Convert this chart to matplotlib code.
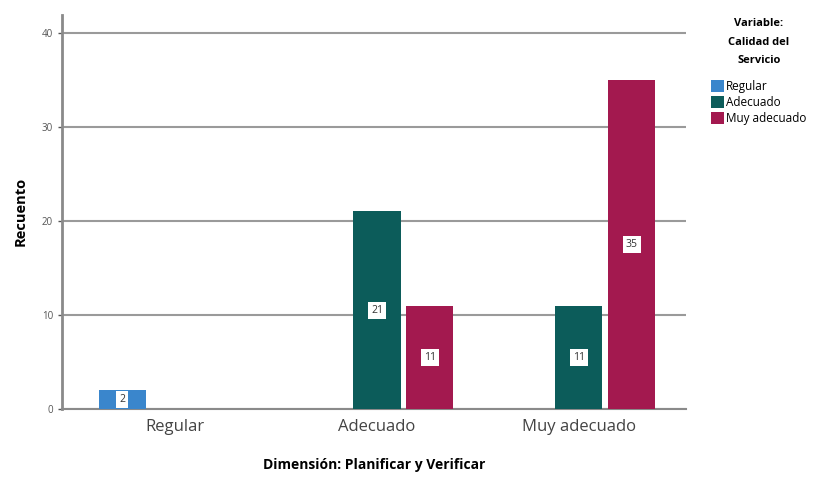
import matplotlib.pyplot as plt
import numpy as np

# recuento por categoría de la dimensión, una serie por nivel de la variable
categorias = ["Regular", "Adecuado", "Muy adecuado"]
niveles = ["Regular", "Adecuado", "Muy adecuado"]
recuento_regular = [2, 0, 0]
recuento_adecuado = [0, 21, 11]
recuento_muy_adecuado = [0, 11, 35]
colores = ["#3a86cc", "#0c5c5a", "#a3194f"]

plt.rcParams['font.family'] = ['Open Sans', 'DejaVu Sans']

fig = plt.figure(figsize=(8.24, 4.8), dpi=100)
ax = fig.add_axes([0.0752, 0.148, 0.7573, 0.821])

x = np.arange(len(categorias))
series = [recuento_regular, recuento_adecuado, recuento_muy_adecuado]
paso = 0.262
ancho = 0.233

for i, (vals, nivel, col) in enumerate(zip(series, niveles, colores)):
    pos = x + (i - 1) * paso
    barras = ax.bar(pos, vals, width=ancho, color=col, label=nivel, zorder=3)
    for b, v in zip(barras, vals):
        if v > 0:
            ax.text(b.get_x() + b.get_width() / 2, v / 2, str(v),
                    ha="center", va="center", fontsize=7.5, color="#333333",
                    zorder=4,
                    bbox=dict(boxstyle="square,pad=0.3", fc="white",
                              ec="none"))

ax.set_xlim(-0.56, 2.53)
ax.set_ylim(0, 41.9)
ax.set_yticks([0, 10, 20, 30, 40])
ax.set_xticks(x)
ax.set_xticklabels(categorias, fontsize=12, color="#444444")
ax.tick_params(axis="y", labelsize=7, colors="#555555", length=3, width=1)
ax.tick_params(axis="x", length=0, pad=7)
ax.grid(axis="y", color="#9a9a9a", linewidth=1.5, zorder=0)

for s in ["top", "right"]:
    ax.spines[s].set_visible(False)
ax.spines["left"].set_color("#8a8a8a")
ax.spines["left"].set_linewidth(2)
ax.spines["bottom"].set_color("#8a8a8a")
ax.spines["bottom"].set_linewidth(1.5)

ax.set_ylabel("Recuento", fontsize=10.5, fontweight="bold", labelpad=10)
ax.set_xlabel("Dimensión: Planificar y Verificar", fontsize=10,
              fontweight="bold", labelpad=17)

leg = fig.legend(loc="upper left", bbox_to_anchor=(0.857, 0.972),
                 title="Variable:\nCalidad del\nServicio", frameon=False,
                 fontsize=8.5, handlelength=1.1, handleheight=1.2,
                 handletextpad=0.2, labelspacing=0.25, borderaxespad=0)
leg.get_title().set_fontweight("bold")
leg.get_title().set_fontsize(8)
leg.get_title().set_linespacing(1.95)
leg.get_title().set_multialignment("center")
leg._legend_box.align = "center"
leg._legend_box.sep = 10

fig.savefig("out.png", dpi=100)
